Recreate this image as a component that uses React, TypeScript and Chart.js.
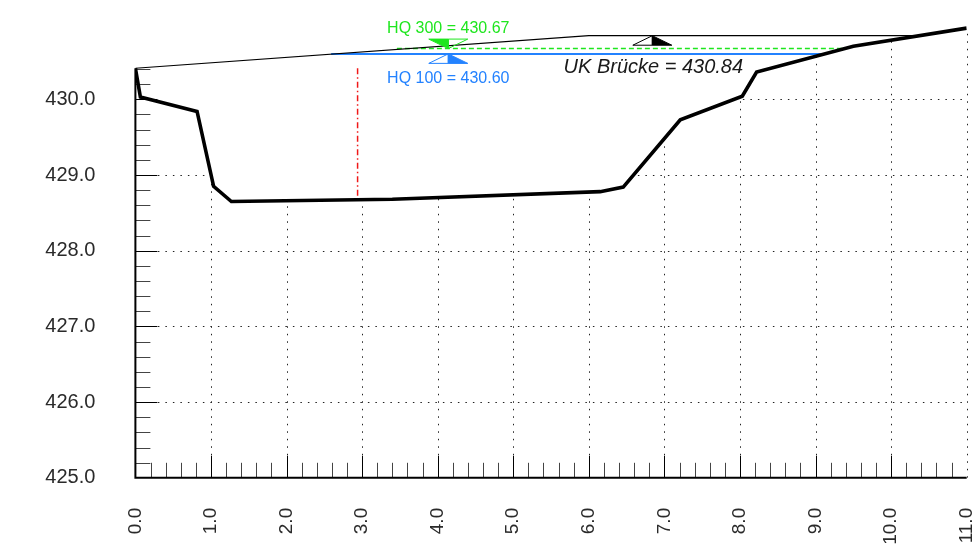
import React, { useEffect, useRef } from 'react';
import { Chart, registerables } from 'chart.js';

Chart.register(...registerables);

// Terrain (cross-section) points
const terrainX = [0, 0.066, 0.816, 1.035, 1.27, 3.4, 6.15, 6.455, 7.21, 8.03, 8.22, 9.5, 11.0];
const terrainY = [430.41, 430.03, 429.84, 428.85, 428.65, 428.68, 428.78, 428.84, 429.73, 430.04, 430.36, 430.70, 430.94];

// Bridge underside
const bridgeX = [0, 6.0, 10.3];
const bridgeY = [430.41, 430.84, 430.84];
const ukBruecke = 430.84;

// Water levels
const hq100 = 430.6;
const hq100X = [2.59, 9.1];
const hq300 = 430.67;
const hq300X = [3.46, 9.35];

// Marker positions (station)
const hqMarkerX = 4.14;
const bridgeMarkerX = 6.84;

// Red dash-dot section line
const sectionX = 2.94;
const sectionY = [430.41, 428.67];

// Axis ticks
const xTicks = [0, 1, 2, 3, 4, 5, 6, 7, 8, 9, 10, 11];
const yTicks = [425, 426, 427, 428, 429, 430];

const GREEN = '#1ee61e';
const BLUE = '#2382ff';
const RED = '#f01818';
const FONT = "'Liberation Sans', Arial, sans-serif";

const profilePlugin = {
  id: 'profileDecor',
  beforeDatasetsDraw(chart: any) {
    const { ctx, scales, chartArea } = chart;
    const xs = scales.x, ys = scales.y;
    const px = (v: number) => xs.getPixelForValue(v);
    const py = (v: number) => ys.getPixelForValue(v);
    const bottom = py(425);
    const last = terrainX.length - 1;

    // grid, clipped below terrain
    ctx.save();
    ctx.beginPath();
    ctx.moveTo(px(terrainX[0]) - 3, py(terrainY[0]));
    terrainX.forEach((tx, i) => ctx.lineTo(px(tx), py(terrainY[i])));
    ctx.lineTo(px(terrainX[last]) + 3, py(terrainY[last]));
    ctx.lineTo(px(terrainX[last]) + 3, bottom);
    ctx.lineTo(px(terrainX[0]) - 3, bottom);
    ctx.closePath();
    ctx.clip();
    ctx.setLineDash([1.5, 6]);
    ctx.lineWidth = 1;
    ctx.strokeStyle = '#222';
    xTicks.forEach((v) => {
      if (v === xTicks[0]) return;
      const X = Math.round(px(v)) + 0.5;
      ctx.beginPath();
      ctx.moveTo(X, bottom);
      ctx.lineTo(X, chartArea.top);
      ctx.stroke();
    });
    yTicks.forEach((v) => {
      if (v === yTicks[0]) return;
      const Y = Math.round(py(v)) + 0.5;
      ctx.beginPath();
      ctx.moveTo(px(xTicks[0]), Y);
      ctx.lineTo(px(xTicks[xTicks.length - 1]), Y);
      ctx.stroke();
    });
    ctx.restore();

    // tick marks (inside)
    ctx.save();
    ctx.lineWidth = 1;
    const x0 = px(0);
    for (let k = 1; k < 55; k++) {
      const v = k / 5;
      const major = k % 5 === 0;
      const X = Math.round(px(v)) + 0.5;
      ctx.strokeStyle = major ? '#000' : '#444';
      ctx.beginPath();
      ctx.moveTo(X, bottom);
      ctx.lineTo(X, bottom - (major ? 22 : 15));
      ctx.stroke();
    }
    for (let k = 1; k < 40; k++) {
      const v = 425 + k / 5;
      if (v > terrainY[0] + 0.001) break;
      const major = k % 5 === 0;
      const Y = Math.round(py(v)) + 0.5;
      ctx.strokeStyle = major ? '#000' : '#444';
      ctx.beginPath();
      ctx.moveTo(x0, Y);
      ctx.lineTo(x0 + (major ? 22 : 15), Y);
      ctx.stroke();
    }
    // axis lines
    ctx.strokeStyle = '#000';
    ctx.lineWidth = 2;
    ctx.beginPath();
    ctx.moveTo(x0, py(terrainY[0]));
    ctx.lineTo(x0, bottom);
    ctx.lineTo(px(11), bottom);
    ctx.stroke();
    ctx.restore();
  },
  afterDatasetsDraw(chart: any) {
    const { ctx, scales } = chart;
    const xs = scales.x, ys = scales.y;
    const px = (v: number) => xs.getPixelForValue(v);
    const py = (v: number) => ys.getPixelForValue(v);
    const hw = 19.5, th = 9.5;

    const tri = (pts: number[][], fill: boolean, color: string) => {
      ctx.beginPath();
      ctx.moveTo(pts[0][0], pts[0][1]);
      ctx.lineTo(pts[1][0], pts[1][1]);
      ctx.lineTo(pts[2][0], pts[2][1]);
      ctx.closePath();
      if (fill) {
        ctx.fillStyle = color;
        ctx.fill();
      }
      ctx.strokeStyle = color;
      ctx.lineWidth = 1;
      ctx.stroke();
    };

    ctx.save();
    ctx.setLineDash([]);
    // HQ 300 marker (pointing down)
    let ax = px(hqMarkerX), ay = py(hq300);
    tri([[ax - hw, ay - th], [ax, ay - th], [ax, ay]], true, GREEN);
    tri([[ax, ay - th], [ax + hw, ay - th], [ax, ay]], false, GREEN);
    ctx.font = `16px ${FONT}`;
    ctx.textAlign = 'center';
    ctx.textBaseline = 'alphabetic';
    ctx.fillStyle = GREEN;
    ctx.fillText(`HQ 300 = ${hq300.toFixed(2)}`, ax, ay - 16);

    // HQ 100 marker (pointing up)
    ay = py(hq100);
    tri([[ax - hw, ay + th], [ax, ay + th], [ax, ay]], false, BLUE);
    tri([[ax, ay + th], [ax + hw, ay + th], [ax, ay]], true, BLUE);
    ctx.fillStyle = BLUE;
    ctx.fillText(`HQ 100 = ${hq100.toFixed(2)}`, ax, ay + 29);

    // Bridge marker
    ax = px(bridgeMarkerX);
    ay = py(ukBruecke);
    tri([[ax - hw, ay + th], [ax, ay + th], [ax, ay]], false, '#000');
    tri([[ax, ay + th], [ax + hw, ay + th], [ax, ay]], true, '#000');
    ctx.font = `italic 20px ${FONT}`;
    ctx.fillStyle = '#1a1a1a';
    ctx.fillText(`UK Brücke = ${ukBruecke.toFixed(2)}`, ax + 1, ay + 37);
    ctx.restore();
  },
};

export default function App() {
  const ref = useRef<HTMLCanvasElement | null>(null);
  useEffect(() => {
    if (!ref.current) return;
    const toPts = (xsArr: number[], ysArr: number[]) => xsArr.map((x, i) => ({ x, y: ysArr[i] }));
    const chart = new Chart(ref.current, {
      type: 'line',
      data: {
        datasets: [
          {
            label: 'Gelände',
            data: toPts(terrainX, terrainY),
            borderColor: '#000',
            borderWidth: 3.6,
            pointRadius: 0,
            fill: false,
            tension: 0,
          },
          {
            label: 'UK Brücke',
            data: toPts(bridgeX, bridgeY),
            borderColor: '#000',
            borderWidth: 1.2,
            pointRadius: 0,
            fill: false,
          },
          {
            label: 'HQ 300',
            data: toPts(hq300X, [hq300, hq300]),
            borderColor: GREEN,
            borderWidth: 1.5,
            borderDash: [5, 3],
            pointRadius: 0,
            fill: false,
          },
          {
            label: 'HQ 100',
            data: toPts(hq100X, [hq100, hq100]),
            borderColor: BLUE,
            borderWidth: 2,
            pointRadius: 0,
            fill: false,
          },
          {
            label: 'Schnitt',
            data: toPts([sectionX, sectionX], sectionY),
            borderColor: RED,
            borderWidth: 1.5,
            borderDash: [6, 3, 1.5, 3],
            pointRadius: 0,
            fill: false,
          },
        ],
      },
      options: {
        responsive: false,
        animation: false,
        events: [],
        layout: { padding: { top: 23.6, right: 12.3, left: 0, bottom: 0 } },
        plugins: { legend: { display: false }, tooltip: { enabled: false } },
        scales: {
          x: {
            type: 'linear',
            min: 0,
            max: 11,
            grid: { display: false, drawTicks: false },
            border: { display: false },
            afterBuildTicks: (s: any) => {
              s.ticks = xTicks.map((v) => ({ value: v }));
            },
            afterFit: (s: any) => {
              s.height = 74.2;
              s.paddingLeft = 0;
              s.paddingRight = 0;
            },
            ticks: {
              autoSkip: false,
              minRotation: 90,
              maxRotation: 90,
              padding: 30,
              color: '#2a2a2a',
              font: { family: FONT, size: 19 },
              callback: (v: any) => Number(v).toFixed(1),
            },
          },
          y: {
            type: 'linear',
            min: 425,
            max: 431,
            grid: { display: false, drawTicks: false },
            border: { display: false },
            afterBuildTicks: (s: any) => {
              s.ticks = yTicks.map((v) => ({ value: v }));
            },
            afterFit: (s: any) => {
              s.width = 135.4;
              s.paddingTop = 0;
              s.paddingBottom = 0;
            },
            ticks: {
              padding: 40,
              color: '#2a2a2a',
              font: { family: FONT, size: 20 },
              callback: (v: any) => Number(v).toFixed(1),
            },
          },
        },
      },
      plugins: [profilePlugin],
    });
    return () => chart.destroy();
  }, []);
  return (
    <div style={{ position: 'absolute', left: 0, top: 0, width: 979, height: 552, background: '#fff' }}>
      <canvas ref={ref} width={979} height={552} style={{ display: 'block' }} />
    </div>
  );
}
